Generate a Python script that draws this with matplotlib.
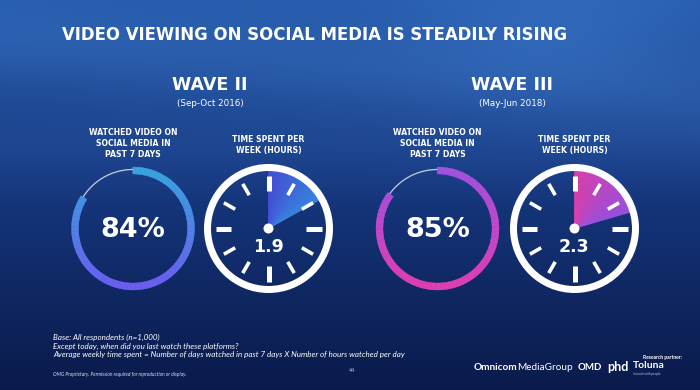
import numpy as np
import matplotlib
matplotlib.use("Agg")
import matplotlib.pyplot as plt
from matplotlib.patches import Wedge, Circle
from matplotlib.colors import to_rgb

# ---------------- data ----------------
title = "VIDEO VIEWING ON SOCIAL MEDIA IS STEADILY RISING"
waves = ["WAVE II", "WAVE III"]
periods = ["(Sep-Oct 2016)", "(May-Jun 2018)"]
watched_label = "WATCHED VIDEO ON\nSOCIAL MEDIA IN\nPAST 7 DAYS"
time_label = "TIME SPENT PER\nWEEK (HOURS)"
watched_pct = [84, 85]
hours_per_week = [1.9, 2.3]
clock_hours = 11.2
footnotes = ["Base: All respondents (n=1,000)",
             "Except today, when did you last watch these platforms?",
             "Average weekly time spent = Number of days watched in past 7 days X Number of hours watched per day"]

# styles
ring_top = ["#39a6e0", "#a452e0"]
ring_bottom = ["#6c5ff2", "#e23fb4"]
wedge_start = ["#4650d8", "#e040ac"]
wedge_end = ["#3a86e0", "#9c52e2"]

W, H = 700, 390
fig = plt.figure(figsize=(7, 3.9), dpi=100)

# ---------------- background ----------------
bg = fig.add_axes([0, 0, 1, 1])
yy, xx = np.mgrid[0:H, 0:W]
top = np.array([38, 90, 170]) / 255
mid = np.array([22, 56, 128]) / 255
bot = np.array([10, 26, 74]) / 255
t = yy / H
img = np.where((t < 0.45)[..., None],
               top + (mid - top) * (t / 0.45)[..., None],
               mid + (bot - mid) * ((t - 0.45) / 0.55)[..., None])
haze = np.exp(-((yy - 70 - 0.08 * (xx - 350)) / 45.0) ** 2) * 0.06
haze2 = np.exp(-((xx - 560) / 160.0) ** 2 - ((yy - 30) / 70.0) ** 2) * 0.07
haze3 = np.exp(-((yy - 150) / 40.0) ** 2) * 0.035
img = img + (haze + haze2 + haze3)[..., None] * np.array([0.6, 0.9, 1.0])
img = np.clip(img, 0, 1)
bg.imshow(img, extent=[0, W, 0, H], aspect="auto", origin="upper")
bg.set_xlim(0, W)
bg.set_ylim(0, H)
bg.axis("off")

ax = fig.add_axes([0, 0, 1, 1])
ax.set_xlim(0, W)
ax.set_ylim(0, H)
ax.axis("off")
ax.patch.set_alpha(0)

def Y(ypix):
    return H - ypix

def lerp(c1, c2, f):
    a, b = np.array(to_rgb(c1)), np.array(to_rgb(c2))
    return tuple(a + (b - a) * f)

PX = 0.72  # points per pixel

def donut(cx, cy, r, width, pct, ctop, cbot):
    span = pct / 100 * 360
    th_start = 90 - span
    n = 240
    edges = np.linspace(th_start, 90, n + 1)
    for a, b in zip(edges[:-1], edges[1:]):
        m = np.deg2rad((a + b) / 2)
        f = (1 - np.sin(m)) / 2
        c = lerp(ctop, cbot, f)
        ax.add_patch(Wedge((cx, cy), r, a, b + 0.3, width=width,
                           facecolor=c, edgecolor=c, lw=0.2))
    th = np.deg2rad(np.linspace(90, th_start + 360, 60))
    rr = r - 2.5
    ax.plot(cx + rr * np.cos(th), cy + rr * np.sin(th), color="#c4c8d8",
            lw=1.3 * PX, solid_capstyle="butt")

def clock(cx, cy, value, c1, c2):
    span = value / clock_hours * 360
    n = 80
    edges = np.linspace(90 - span, 90, n + 1)
    for a, b in zip(edges[:-1], edges[1:]):
        f = (90 - (a + b) / 2) / span
        c = lerp(c1, c2, f)
        ax.add_patch(Wedge((cx, cy), 58, a, b + 0.3, facecolor=c,
                           edgecolor=c, lw=0.2))
    ax.add_patch(Circle((cx, cy), 61, fill=False, edgecolor="white",
                        lw=7 * PX))
    for k in range(12):
        ang = np.deg2rad(90 - 30 * k)
        major = (k % 3 == 0)
        r0, r1 = (37.5, 53) if major else (38.5, 51.5)
        ax.plot([cx + r0 * np.cos(ang), cx + r1 * np.cos(ang)],
                [cy + r0 * np.sin(ang), cy + r1 * np.sin(ang)],
                color="white", lw=(5 if major else 3.6) * PX,
                solid_capstyle="butt")
    ax.add_patch(Circle((cx, cy), 5, facecolor="white", edgecolor="none"))

# ---------------- title ----------------
fs_title = dict(color="white", fontweight="bold", family="DejaVu Sans")
ax.text(62, Y(35), title, fontsize=13.2, ha="left", va="center",
        fontstretch="condensed", **fs_title)

group_x = [210, 512]
donut_x = [133, 437.5]
clock_x = [268.5, 574.5]
cy = Y(228.5)

for i in range(2):
    ax.text(group_x[i], Y(85), waves[i], fontsize=12.6, ha="center",
            va="center", **fs_title)
    ax.text(group_x[i], Y(103), periods[i], fontsize=6.3, ha="center",
            va="center", color="white")
    ax.text(donut_x[i], Y(143.5), watched_label, fontsize=5.6, ha="center",
            va="center", color="white", fontweight="bold", linespacing=1.25)
    ax.text(clock_x[i], Y(145), time_label, fontsize=5.6, ha="center",
            va="center", color="white", fontweight="bold", linespacing=1.25)
    donut(donut_x[i], cy, 61.5, 7, watched_pct[i], ring_top[i], ring_bottom[i])
    ax.text(donut_x[i], Y(230), f"{watched_pct[i]}%", fontsize=19.5,
            ha="center", va="center", color="white", fontweight="bold")
    clock(clock_x[i], cy, hours_per_week[i], wedge_start[i], wedge_end[i])
    ax.text(clock_x[i] - 0.5, Y(247.5), f"{hours_per_week[i]}", fontsize=12.5,
            ha="center", va="center", color="white", fontweight="bold")

# ---------------- footer ----------------
for k, line in enumerate(footnotes):
    ax.text(53, Y(337 + 9 * k), line, fontsize=5.75, ha="left", va="center",
            color="white", style="italic", family="Lato")
ax.text(53, Y(374), "OMG Proprietary. Permission required for reproduction or display.",
        fontsize=3.5, ha="left", va="center", color="#d8dcec", style="italic",
        family="Lato")
ax.text(352, Y(370), "44", fontsize=3.5, ha="center", va="center",
        color="#b0b8d0")

ax.text(517, Y(368), "Omnicom", fontsize=7.2, ha="right", va="center",
        color="white", fontweight="bold", family="Lato")
ax.text(517, Y(368), "MediaGroup", fontsize=7.2, ha="left", va="center",
        color="white", family="Lato")
ax.text(590, Y(367), "OMD", fontsize=7.0, ha="center", va="center",
        color="white", fontweight="bold", family="Lato")
ax.text(607, Y(367), "phd", fontsize=9, ha="left", va="center",
        color="white", fontweight="bold", family="Lato")
ax.text(682, Y(357), "Research partner:", fontsize=3.6, ha="right",
        va="center", color="white", fontweight="bold", family="Lato")
ax.text(633, Y(366), "Toluna", fontsize=7.5, ha="left", va="center",
        color="white", fontweight="bold", family="Lato")
ax.text(633, Y(374), "in touch with people", fontsize=2.2, ha="left",
        va="center", color="#c0c8e0", family="Lato")

fig.savefig("out.png", dpi=100)
